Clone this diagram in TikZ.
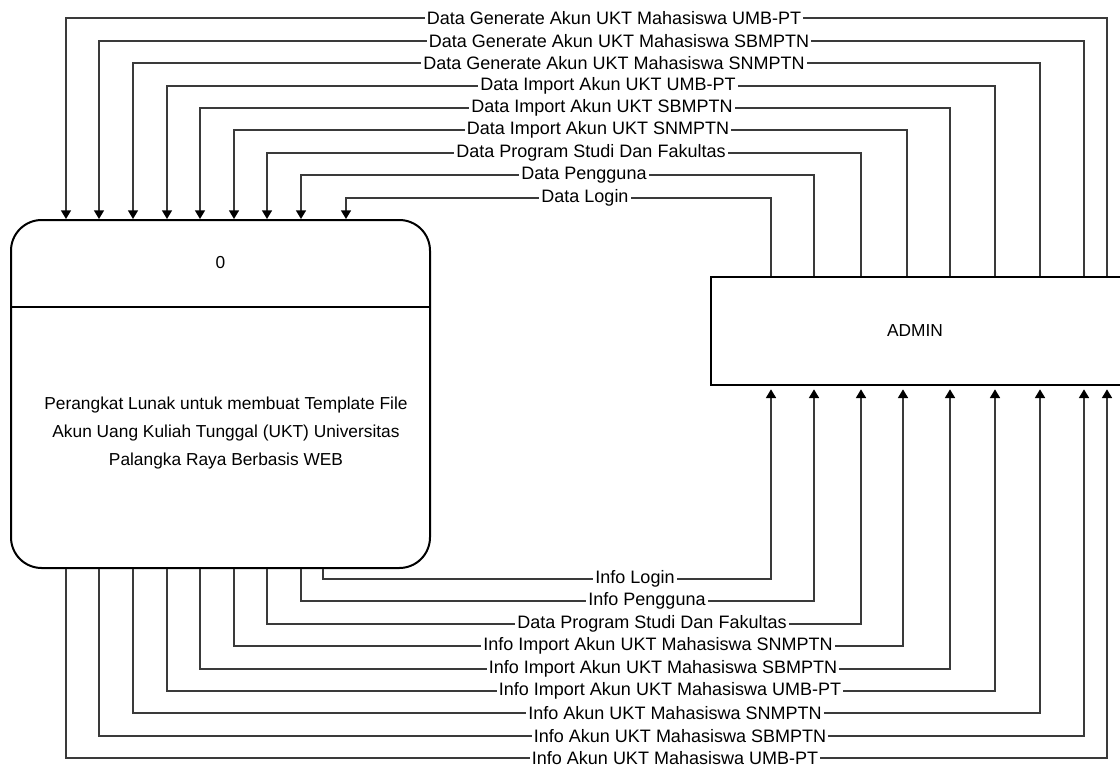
\documentclass[tikz,border=0pt]{standalone}
\usepackage{fontspec}
\setmainfont{Liberation Sans}
\usetikzlibrary{arrows.meta}
\definecolor{linec}{HTML}{3A3A3A}
\tikzset{
  flow/.style={draw=linec, line width=1.1pt, -{Triangle[length=6.5pt,width=7.5pt,fill=black,color=black]}},
  lab/.style={fill=white, inner xsep=1.5pt, inner ysep=0.5pt, text=black, font=\fontsize{13.5pt}{16pt}\selectfont},
  procbox/.style={draw=black, line width=1.5pt, rounded corners=23pt, inner sep=0pt, minimum width=314.25pt, minimum height=261pt},
  entbox/.style={draw=black, line width=1.5pt, inner sep=0pt, minimum width=314.25pt, minimum height=81pt},
  boxtext/.style={font=\fontsize{13pt}{21pt}\selectfont, align=center}
}
\begin{document}
\begin{tikzpicture}[x=0.75pt, y=-0.75pt]
\useasboundingbox (0,0) rectangle (1120,767);
% process
\node[procbox] (proc) at (220.5,394) {};
\draw[black, line width=1.5pt] (proc.west |- 0,307) coordinate (dl) -- (proc.east |- 0,307) coordinate (dr);
\node[boxtext] (pnum) at (220.5,263) {0};
\node[boxtext] (ptxt) at (226,433) {Perangkat Lunak untuk membuat Template File\\Akun Uang Kuliah Tunggal (UKT) Universitas\\Palangka Raya Berbasis WEB};
% entity
\node[entbox] (admin) at (920.5,331) {};
\node[boxtext] (atxt) at (915,331) {ADMIN};
% top flows: admin -> process
\foreach \xr/\yy/\xl/\lx/\txt in {
  1107/18/66/614/{Data Generate Akun UKT Mahasiswa UMB-PT},
  1084/41/99/619/{Data Generate Akun UKT Mahasiswa SBMPTN},
  1040/63/133/614/{Data Generate Akun UKT Mahasiswa SNMPTN},
  995/86/167/608/{Data Import Akun UKT UMB-PT},
  950/108/200/602/{Data Import Akun UKT SBMPTN},
  907/130/234/598/{Data Import Akun UKT SNMPTN},
  861/153/267/591/{Data Program Studi Dan Fakultas},
  814/175/301/584/{Data Pengguna},
  771/198/346/585/{Data Login}}
{
  \draw[flow] (\xr,0 |- admin.north) |- (\lx,\yy) node[lab]{\txt} -- (\xl,\yy) -- (\xl,0 |- proc.north);
}
% bottom flows: process -> admin
\foreach \xl/\yy/\xr/\lx/\txt in {
  323/579/771/635/{Info Login},
  301/601/814/647/{Info Pengguna},
  267/624/861/652/{Data Program Studi Dan Fakultas},
  234/646/903/658/{Info Import Akun UKT Mahasiswa SNMPTN},
  200/669/950/663/{Info Import Akun UKT Mahasiswa SBMPTN},
  167/691/995/670/{Info Import Akun UKT Mahasiswa UMB-PT},
  133/713/1040/675/{Info Akun UKT Mahasiswa SNMPTN},
  99/736/1084/680/{Info Akun UKT Mahasiswa SBMPTN},
  66/758/1107/675/{Info Akun UKT Mahasiswa UMB-PT}}
{
  \draw[flow, shorten >=2.5pt] (\xl,0 |- proc.south) |- (\lx,\yy) node[lab]{\txt} -- (\xr,\yy) -- (\xr,0 |- admin.south);
}
\end{tikzpicture}
\end{document}
